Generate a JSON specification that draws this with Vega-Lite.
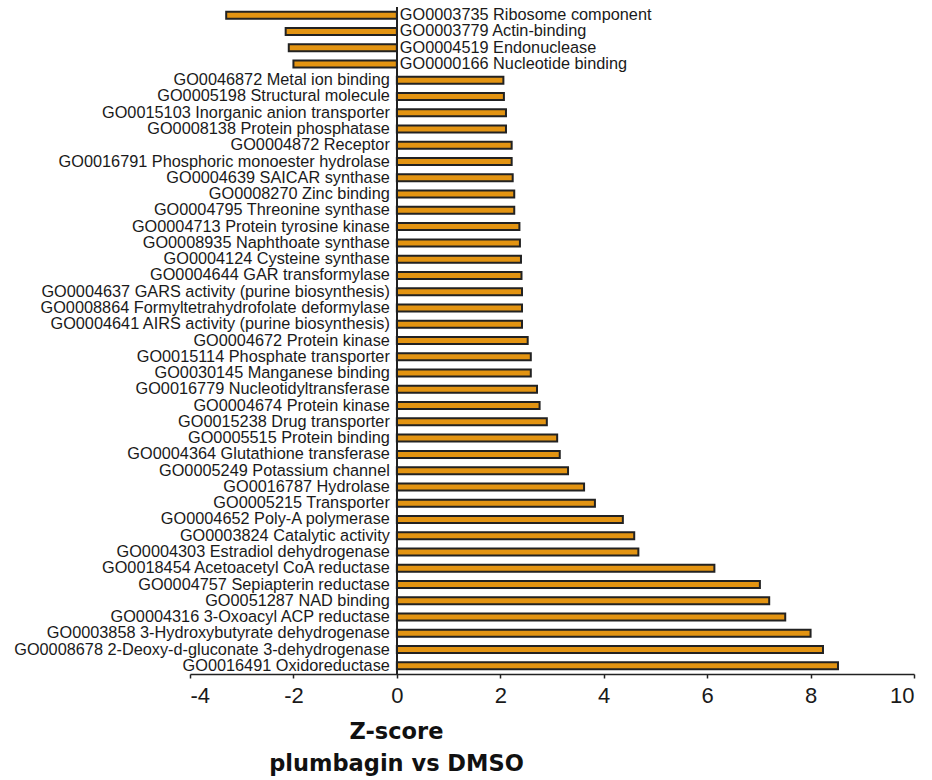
{
  "$schema": "https://vega.github.io/schema/vega-lite/v6.json",
  "autosize": "none",
  "width": 724,
  "height": 667,
  "padding": {"left": 190, "top": 7, "right": 18, "bottom": 106},
  "background": "white",
  "config": {"view": {"stroke": null}, "font": "Liberation Sans"},
  "data": {"values": [
    {"term": "GO0003735 Ribosome component", "z": -3.30},
    {"term": "GO0003779 Actin-binding", "z": -2.15},
    {"term": "GO0004519 Endonuclease", "z": -2.09},
    {"term": "GO0000166 Nucleotide binding", "z": -2.00},
    {"term": "GO0046872 Metal ion binding", "z": 2.06},
    {"term": "GO0005198 Structural molecule", "z": 2.07},
    {"term": "GO0015103 Inorganic anion transporter", "z": 2.11},
    {"term": "GO0008138 Protein phosphatase", "z": 2.11},
    {"term": "GO0004872 Receptor", "z": 2.22},
    {"term": "GO0016791 Phosphoric monoester hydrolase", "z": 2.22},
    {"term": "GO0004639 SAICAR synthase", "z": 2.24},
    {"term": "GO0008270 Zinc binding", "z": 2.27},
    {"term": "GO0004795 Threonine synthase", "z": 2.27},
    {"term": "GO0004713 Protein tyrosine kinase", "z": 2.37},
    {"term": "GO0008935 Naphthoate synthase", "z": 2.38},
    {"term": "GO0004124 Cysteine synthase", "z": 2.40},
    {"term": "GO0004644 GAR transformylase", "z": 2.41},
    {"term": "GO0004637 GARS activity (purine biosynthesis)", "z": 2.42},
    {"term": "GO0008864 Formyltetrahydrofolate deformylase", "z": 2.42},
    {"term": "GO0004641 AIRS activity (purine biosynthesis)", "z": 2.42},
    {"term": "GO0004672 Protein kinase", "z": 2.53},
    {"term": "GO0015114 Phosphate transporter", "z": 2.59},
    {"term": "GO0030145 Manganese binding", "z": 2.59},
    {"term": "GO0016779 Nucleotidyltransferase", "z": 2.71},
    {"term": "GO0004674 Protein kinase", "z": 2.76},
    {"term": "GO0015238 Drug transporter", "z": 2.90},
    {"term": "GO0005515 Protein binding", "z": 3.10},
    {"term": "GO0004364 Glutathione transferase", "z": 3.15},
    {"term": "GO0005249 Potassium channel", "z": 3.31},
    {"term": "GO0016787 Hydrolase", "z": 3.62},
    {"term": "GO0005215 Transporter", "z": 3.83},
    {"term": "GO0004652 Poly-A polymerase", "z": 4.37},
    {"term": "GO0003824 Catalytic activity", "z": 4.59},
    {"term": "GO0004303 Estradiol dehydrogenase", "z": 4.67},
    {"term": "GO0018454 Acetoacetyl CoA reductase", "z": 6.14},
    {"term": "GO0004757 Sepiapterin reductase", "z": 7.02},
    {"term": "GO0051287 NAD binding", "z": 7.20},
    {"term": "GO0004316 3-Oxoacyl ACP reductase", "z": 7.51},
    {"term": "GO0003858 3-Hydroxybutyrate dehydrogenase", "z": 8.00},
    {"term": "GO0008678 2-Deoxy-d-gluconate 3-dehydrogenase", "z": 8.24},
    {"term": "GO0016491 Oxidoreductase", "z": 8.53}
  ]},
  "encoding": {
    "y": {"field": "term", "type": "nominal", "sort": null,
          "scale": {"paddingInner": 0, "paddingOuter": 0}, "axis": null}
  },
  "layer": [
    {
      "mark": {"type": "bar", "size": 7, "fill": "#E39412", "stroke": "#222222", "strokeWidth": 2},
      "encoding": {
        "x": {"field": "z", "type": "quantitative",
              "scale": {"domain": [-4, 10], "nice": false, "zero": false},
              "axis": {
                "values": [-4, -2, 0, 2, 4, 6, 8, 10],
                "labelExpr": "datum.value + ''",
                "grid": false,
                "domainColor": "#222222", "domainWidth": 1.5,
                "tickColor": "#222222", "tickWidth": 1.5, "tickSize": 4,
                "labelFontSize": 22, "labelColor": "#1a1a1a", "labelPadding": 7,
                "labelFont": "Liberation Sans",
                "title": ["Z-score", "plumbagin vs DMSO"],
                "titleFontSize": 22.5, "titleFontWeight": "bold", "titleColor": "#111111",
                "titleFont": "DejaVu Sans",
                "titleAnchor": "start", "titleAlign": "center", "titleBaseline": "alphabetic",
                "titleX": 206, "titleY": 64, "titleLineHeight": 32
              }}
      }
    },
    {
      "mark": {"type": "rule", "color": "#222222", "strokeWidth": 1.5},
      "encoding": {"x": {"datum": 0, "type": "quantitative"}, "y": null}
    },
    {
      "transform": [{"filter": "datum.z >= 0"}],
      "mark": {"type": "text", "align": "right", "baseline": "middle", "dx": -7, "fontSize": 16.3, "color": "#1a1a1a", "font": "Liberation Sans"},
      "encoding": {"x": {"datum": 0, "type": "quantitative"}, "text": {"field": "term"}}
    },
    {
      "transform": [{"filter": "datum.z < 0"}],
      "mark": {"type": "text", "align": "left", "baseline": "middle", "dx": 3, "fontSize": 16.3, "color": "#1a1a1a", "font": "Liberation Sans"},
      "encoding": {"x": {"datum": 0, "type": "quantitative"}, "text": {"field": "term"}}
    }
  ]
}
